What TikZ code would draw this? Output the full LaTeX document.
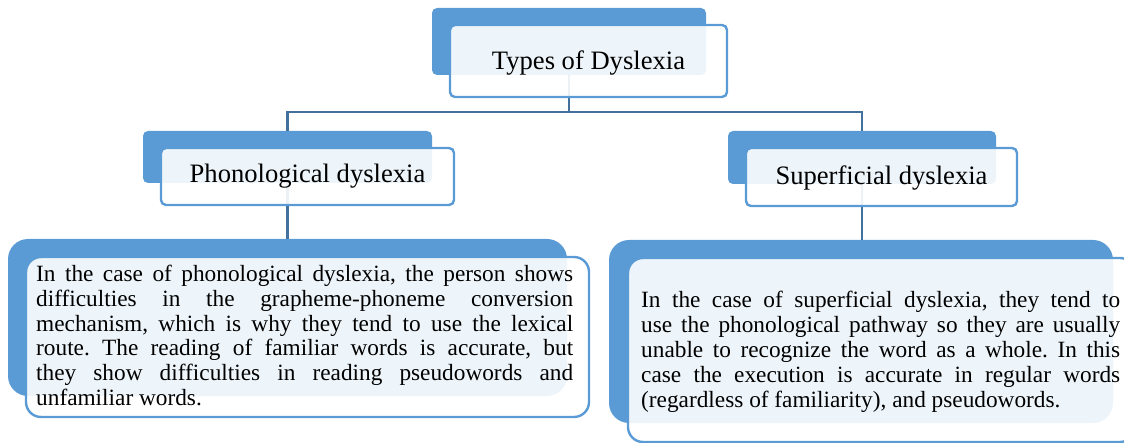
\documentclass[tikz,border=0pt]{standalone}
\usepackage{fontspec}
\setmainfont{Liberation Serif}
\frenchspacing
\definecolor{boxblue}{HTML}{5B9BD5}
\definecolor{linkblue}{HTML}{41719C}
\tikzset{
  backbox/.style={fill=boxblue, draw=none, rounded corners=5pt, inner sep=0pt, outer sep=0pt},
  frontbox/.style={fill=white, fill opacity=0.9, draw=boxblue, line width=2.4pt, rounded corners=5pt, inner sep=0pt, outer sep=0pt},
  conn/.style={draw=linkblue, line width=2.2pt},
  headtext/.style={font=\fontsize{26.6}{30}\selectfont, inner sep=0pt, anchor=base},
  desctext/.style={inner sep=0pt, anchor=base west},
}
\newcommand{\jl}[2]{\hbox to #1{#2}}
\begin{document}
\begin{tikzpicture}[x=1pt,y=-1pt]
\useasboundingbox (0,0) rectangle (1124,443);
\clip (0,0) rectangle (1124,443);
% back boxes
\node[backbox, minimum width=274pt, minimum height=67pt] (tb) at (569,41.5) {};
\node[backbox, minimum width=289pt, minimum height=52pt] (lb) at (287.5,157) {};
\node[backbox, minimum width=268pt, minimum height=53pt] (rb) at (862,157.5) {};
\node[backbox, rounded corners=20pt, minimum width=559pt, minimum height=157pt] (ldb) at (287.5,317.5) {};
\node[backbox, rounded corners=20pt, minimum width=504pt, minimum height=183pt] (rdb) at (861,331.5) {};
% connectors
\draw[conn] (tb.south) -- ++(0,37) -| (lb.north);
\draw[conn] (tb.south) -- ++(0,37) -| (rb.north);
\draw[conn] (lb.south) -- (ldb.north);
\draw[conn] (rb.south) -- (rb.south |- rdb.north);
% front boxes
\node[frontbox, minimum width=277pt, minimum height=72pt] (tf) at (588.5,61) {};
\node[frontbox, minimum width=293pt, minimum height=57pt] (lf) at (307.5,176.5) {};
\node[frontbox, minimum width=271pt, minimum height=58pt] (rf) at (881.5,177) {};
\node[frontbox, rounded corners=15pt, minimum width=563pt, minimum height=160pt] (ldf) at (307.5,337) {};
\node[frontbox, rounded corners=15pt, minimum width=507pt, minimum height=184pt] (rdf) at (881.5,350) {};
% texts
\node[headtext] (tt) at (588.5,70) {Types of Dyslexia};
\node[headtext] (lt) at (307.5,183) {Phonological dyslexia};
\node[headtext] (rt) at (881.5,185) {Superficial dyslexia};
\node[desctext] (ld) at (36,281.7) {\vtop{\fontsize{23.3}{24.7}\selectfont
  \jl{537pt}{In the case of phonological dyslexia, the person shows}
  \jl{537pt}{difficulties in the grapheme-phoneme conversion}
  \jl{537pt}{mechanism, which is why they tend to use the lexical}
  \jl{537pt}{route. The reading of familiar words is accurate, but}
  \jl{537pt}{they show difficulties in reading pseudowords and}
  \hbox{unfamiliar words.}}};
\node[desctext] (rd) at (641,308) {\vtop{\fontsize{23.3}{24.8}\selectfont
  \jl{479pt}{In the case of superficial dyslexia, they tend to}
  \jl{479pt}{use the phonological pathway so they are usually}
  \jl{479pt}{unable to recognize the word as a whole. In this}
  \jl{479pt}{case the execution is accurate in regular words}
  \hbox{(regardless of familiarity), and pseudowords.}}};
\end{tikzpicture}
\end{document}
